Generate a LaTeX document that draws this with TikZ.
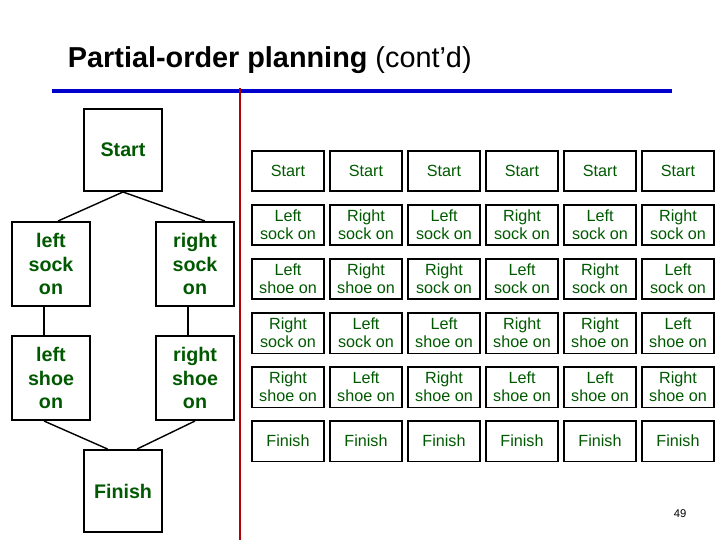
\documentclass[tikz,border=0pt]{standalone}
\usepackage{fontspec}
\setmainfont{Liberation Sans}
\begin{document}
\begin{tikzpicture}[x=0.025cm,y=-0.025cm,
  box/.style={draw,line width=1.4pt,align=center,text=green!35!black},
  big/.style={box,minimum width=1.95cm,minimum height=2.1cm,font=\fontsize{14}{17}\selectfont\bfseries,inner sep=0pt},
  cell/.style={box,line width=1.3pt,minimum width=1.78cm,minimum height=1.02cm,font=\fontsize{11.5}{13}\selectfont,inner sep=0pt},
  link/.style={line width=1pt}]
\useasboundingbox (0,0) rectangle (720,540);
% title
\node[anchor=west,font=\fontsize{20.5}{24}\selectfont] (title) at (63,60) {\textbf{Partial-order planning} (cont'd)};
\draw[blue!80!black,line width=2.5pt] (52,91) -- (672,91);
\draw[red!70!black,line width=1.2pt] (240,88) -- (240,540);
% left graph
\node[big,minimum height=2.05cm] (st) at (123,150) {Start};
\node[big] (ls) at (51,264) {left\\sock\\on};
\node[big] (rs) at (195,264) {right\\sock\\on};
\node[big] (lh) at (51,378) {left\\shoe\\on};
\node[big] (rh) at (195,378) {right\\shoe\\on};
\node[big,minimum height=2.05cm] (fi) at (123,491) {Finish};
\draw[link] (st.south) -- ([xshift=5]ls.north);
\draw[link] (st.south) -- ([xshift=7]rs.north);
\draw[link] ([xshift=-5]ls.south) -- ([xshift=-5]lh.north);
\draw[link] ([xshift=-5]rs.south) -- ([xshift=-5]rh.north);
\draw[link] ([xshift=-5]lh.south) -- ([xshift=-11]fi.north);
\draw[link] (rh.south) -- ([xshift=10]fi.north);
% orderings
\foreach \i/\a/\b/\c/\d in {
  1/Left\\sock on/Left\\shoe on/Right\\sock on/Right\\shoe on,
  2/Right\\sock on/Right\\shoe on/Left\\sock on/Left\\shoe on,
  3/Left\\sock on/Right\\sock on/Left\\shoe on/Right\\shoe on,
  4/Right\\sock on/Left\\sock on/Right\\shoe on/Left\\shoe on,
  5/Left\\sock on/Right\\sock on/Right\\shoe on/Left\\shoe on,
  6/Right\\sock on/Left\\sock on/Left\\shoe on/Right\\shoe on} {
  \node[cell] (s\i) at (210+78*\i,171) {Start};
  \node[cell] (a\i) at (210+78*\i,225) {\a};
  \node[cell] (b\i) at (210+78*\i,279) {\b};
  \node[cell] (c\i) at (210+78*\i,333) {\c};
  \node[cell] (d\i) at (210+78*\i,387) {\d};
  \node[cell] (f\i) at (210+78*\i,441) {Finish};
}
\node[font=\fontsize{8}{9}\selectfont] (pg) at (680,514) {49};
\end{tikzpicture}
\end{document}
